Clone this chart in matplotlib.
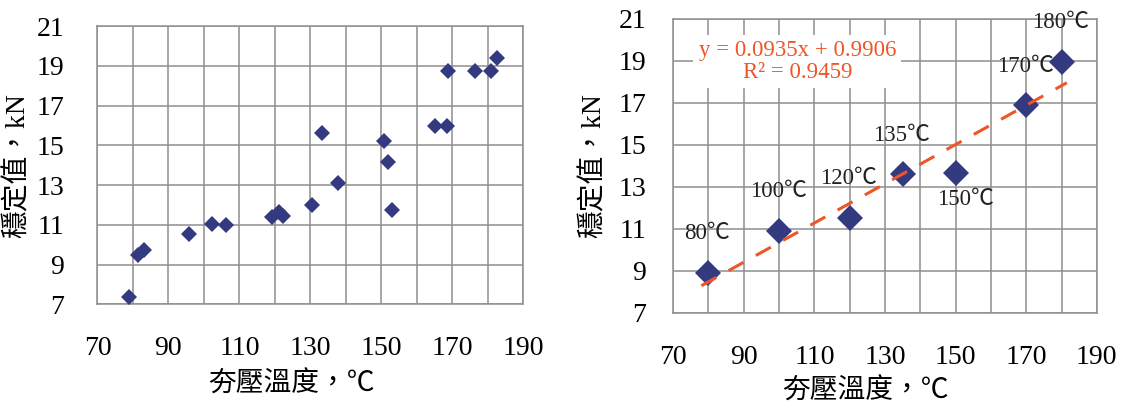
import matplotlib
matplotlib.use("Agg")
import matplotlib.pyplot as plt
import numpy as np

# Scatter of all specimens: compaction temperature vs. Marshall stability
temp_all = [79.0, 81.5, 83.0, 95.9, 102.3, 106.2, 119.2, 121.1, 122.3, 130.5, 133.3,
            137.7, 150.9, 151.8, 153.1, 165.1, 168.4, 168.7, 176.3, 181.0, 182.5]
stab_all = [7.39, 9.50, 9.75, 10.52, 11.04, 10.99, 11.38, 11.63, 11.46, 12.00, 15.60,
            13.09, 15.20, 14.14, 11.73, 15.97, 15.97, 18.75, 18.75, 18.75, 19.37]

# Mean stability per compaction temperature
temp_mean = [80, 100, 120, 135, 150, 170, 180]
stab_mean = [8.91, 10.90, 11.53, 13.60, 13.67, 16.90, 18.96]
point_labels = ["80℃", "100℃", "120℃", "135℃", "150℃", "170℃", "180℃"]

# Linear trend
slope, intercept, r2 = 0.0935, 0.9906, 0.9459
trend_x = [78.0, 181.5]

x_ticks = [70, 90, 110, 130, 150, 170, 190]
y_ticks = [7, 9, 11, 13, 15, 17, 19, 21]
x_label = "夯壓溫度，℃"
y_label = "穩定值，kN"

FAM = ["Liberation Serif", "Noto Sans CJK TC"]
NAVY = "#343A7F"
ORANGE = "#EF5527"
GRID = "#8E8E8E"

fig = plt.figure(figsize=(11.23, 4.04), dpi=100)
ax1 = fig.add_axes([0.0868, 0.2468, 0.3791, 0.6888])
ax2 = fig.add_axes([0.5994, 0.2260, 0.3773, 0.7270])


def style(ax, ypad, xpad):
    ax.set_xlim(70, 190)
    ax.set_ylim(7, 21)
    ax.set_xticks(np.arange(70, 191, 10), minor=False)
    ax.set_xticks(x_ticks)
    ax.set_xticks(np.arange(80, 190, 20), minor=True)
    ax.set_yticks(y_ticks)
    ax.set_xticklabels([str(v) for v in x_ticks], family=FAM, fontsize=20)
    ax.set_yticklabels([str(v) for v in y_ticks], family=FAM, fontsize=20)
    ax.tick_params(axis="both", which="both", length=0)
    ax.tick_params(axis="y", pad=ypad)
    ax.tick_params(axis="x", pad=xpad)
    ax.grid(True, which="both", color=GRID, linewidth=1.1)
    ax.set_axisbelow(True)
    for s in ax.spines.values():
        s.set_color(GRID)
        s.set_linewidth(1.1)
    ax.set_xlabel(x_label, family=FAM, fontsize=20, va="center")
    ax.set_ylabel(y_label, family=FAM, fontsize=20, va="center")


style(ax1, 24, 23)
ax1.xaxis.set_label_coords(0.4545, -0.29)
ax1.yaxis.set_label_coords(-0.187, 0.5)
ax1.plot(temp_all, stab_all, linestyle="none", marker="D", markersize=8.6,
         color=NAVY, markeredgewidth=0, zorder=3)

style(ax2, 19.5, 23)
ax2.xaxis.set_label_coords(0.455, -0.27)
ax2.yaxis.set_label_coords(-0.187, 0.5)
ax2.plot(temp_mean, stab_mean, linestyle="none", marker="D", markersize=13,
         color=NAVY, markeredgewidth=0, zorder=3)
tx = np.array(trend_x)
ax2.plot(tx, slope * tx + intercept, color=ORANGE, linewidth=2.2,
         dashes=(5.6, 4.6), dash_capstyle="butt", zorder=4)

offsets = {"150℃": (7, -19)}
for x, y, lab in zip(temp_mean, stab_mean, point_labels):
    dx, dy = offsets.get(lab, (-0.7, 28))
    ax2.annotate(lab, (x, y), xytext=(dx, dy), textcoords="offset points",
                 ha="center", va="center", family=FAM, fontsize=16.5,
                 color="#222222", zorder=5, annotation_clip=False)

ax2.text(0.293, 0.855,
         f"y = {slope:.4f}x + {intercept:.4f}\nR² = {r2:.4f}",
         transform=ax2.transAxes, ha="center", va="center", family=FAM,
         fontsize=16.5, color=ORANGE, linespacing=1.05, zorder=5,
         bbox=dict(facecolor="white", edgecolor="none", pad=4))

fig.savefig("out.png", dpi=100, facecolor="white")
